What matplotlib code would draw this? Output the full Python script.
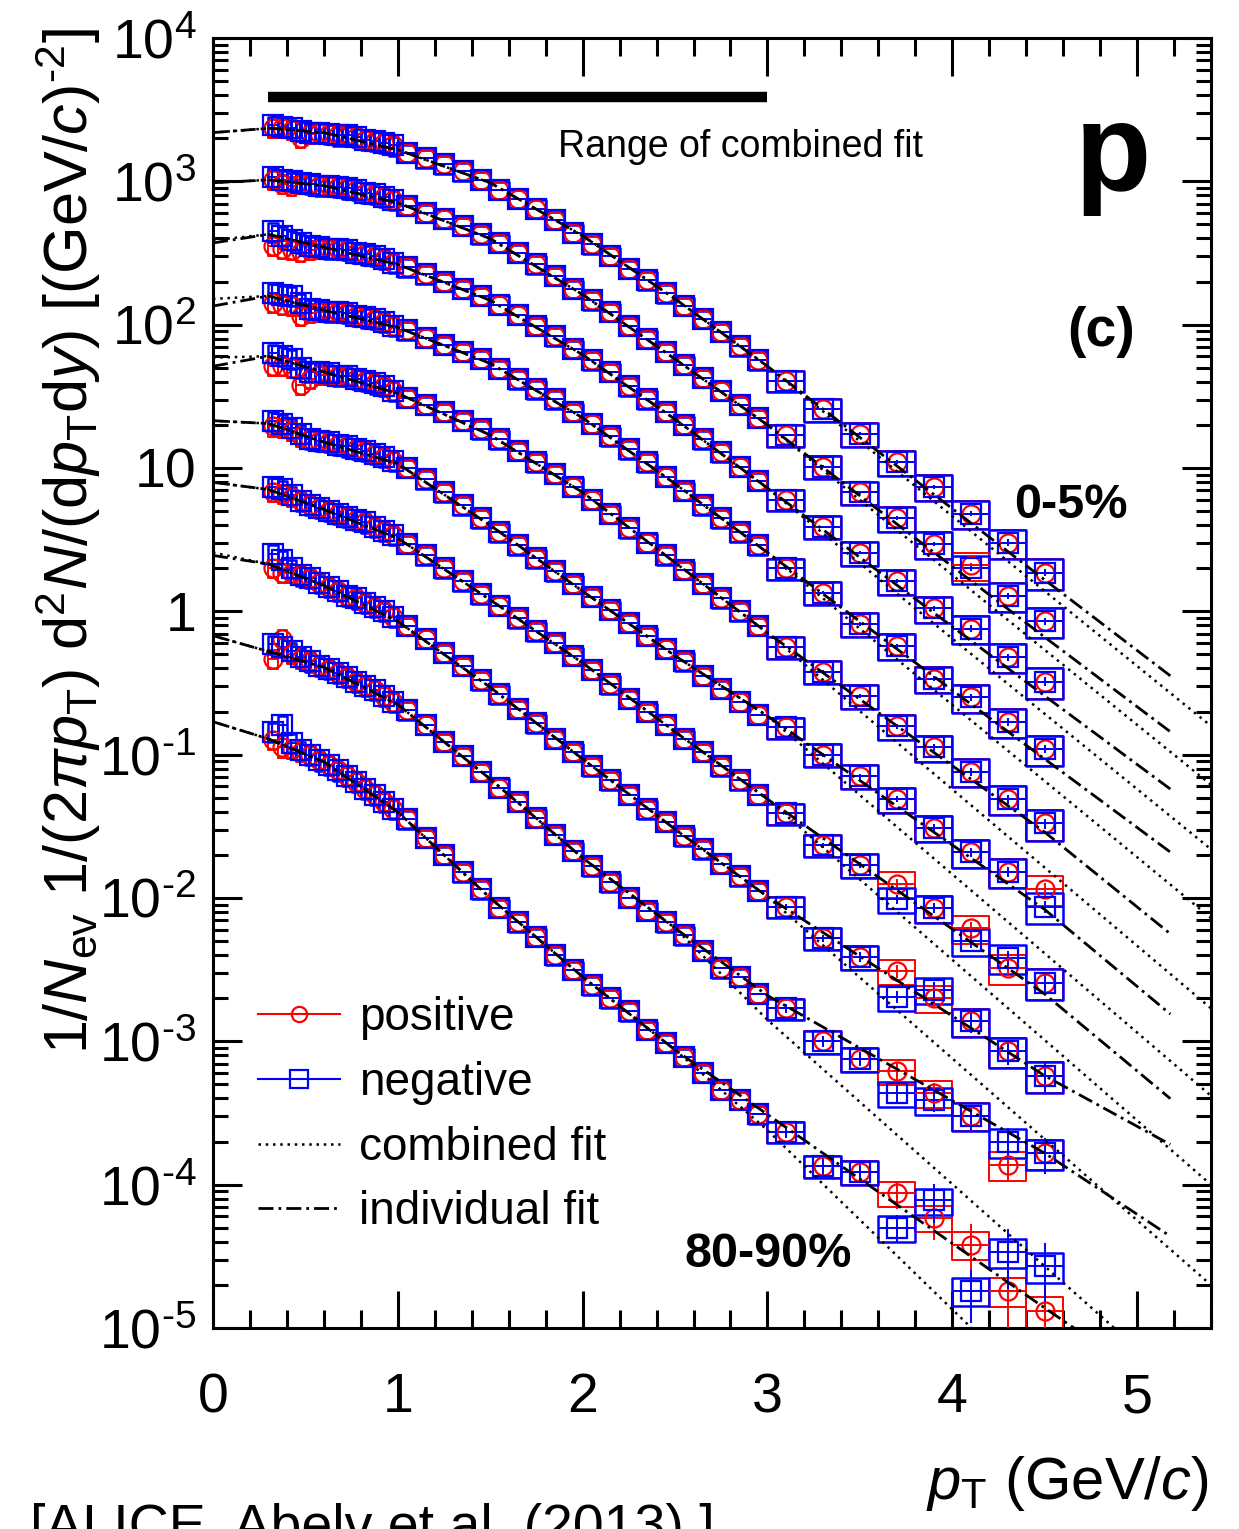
import numpy as np
import matplotlib
matplotlib.use('Agg')
import matplotlib.pyplot as plt
from matplotlib.patches import Rectangle
from matplotlib.collections import PatchCollection
from matplotlib.lines import Line2D
from matplotlib.ticker import MultipleLocator, FixedLocator, FuncFormatter, NullFormatter

plt.rcParams['font.family'] = 'Liberation Sans'
plt.rcParams['mathtext.fontset'] = 'custom'
plt.rcParams['mathtext.rm'] = 'Liberation Sans'
plt.rcParams['mathtext.it'] = 'Liberation Sans:italic'
plt.rcParams['mathtext.bf'] = 'Liberation Sans:bold'
plt.rcParams['mathtext.sf'] = 'Liberation Sans'

# ---------------- data (log10 of the yield) ----------------
centrality = ['0-5%', '5-10%', '10-20%', '20-30%', '30-40%',
              '40-50%', '50-60%', '60-70%', '70-80%', '80-90%']

pt_edges = [0.30, 0.35, 0.40, 0.45, 0.50, 0.55, 0.60, 0.65, 0.70, 0.75, 0.80, 0.85, 0.90, 0.95, 1.00,
            1.10, 1.20, 1.30, 1.40, 1.50, 1.60, 1.70, 1.80, 1.90, 2.00, 2.10, 2.20, 2.30, 2.40, 2.50,
            2.60, 2.70, 2.80, 2.90, 3.00,
            3.20, 3.40, 3.60, 3.80, 4.00, 4.20, 4.40, 4.60]

pos_log10 = [
    [3.37, 3.37, 3.36, 3.30, 3.33, 3.34, 3.33, 3.32, 3.32, 3.31, 3.29, 3.28, 3.27, 3.25,
     3.20, 3.16, 3.12, 3.07, 3.01, 2.94, 2.88, 2.81, 2.73, 2.64, 2.56, 2.48, 2.39, 2.31, 2.22, 2.13, 2.04, 1.95, 1.85, 1.75,
     1.61, 1.41, 1.24, 1.04, 0.87, 0.68, 0.48, 0.27],
    [3.01, 2.98, 2.97, 2.98, 2.98, 2.97, 2.97, 2.96, 2.95, 2.94, 2.92, 2.91, 2.89, 2.87,
     2.83, 2.78, 2.74, 2.69, 2.63, 2.57, 2.50, 2.42, 2.34, 2.25, 2.17, 2.09, 1.99, 1.90, 1.81, 1.72, 1.63, 1.54, 1.44, 1.35,
     1.23, 1.01, 0.83, 0.65, 0.47, 0.32, 0.11, -0.07],
    [2.55, 2.53, 2.52, 2.51, 2.52, 2.53, 2.53, 2.53, 2.52, 2.50, 2.49, 2.48, 2.46, 2.43,
     2.40, 2.35, 2.30, 2.25, 2.20, 2.14, 2.07, 1.99, 1.92, 1.83, 1.75, 1.67, 1.57, 1.48, 1.39, 1.30, 1.20, 1.11, 1.01, 0.91,
     0.78, 0.59, 0.41, 0.21, 0.02, -0.12, -0.32, -0.49],
    [2.15, 2.14, 2.13, 2.06, 2.08, 2.09, 2.09, 2.09, 2.08, 2.06, 2.05, 2.04, 2.02, 1.99,
     1.96, 1.91, 1.86, 1.81, 1.76, 1.69, 1.62, 1.55, 1.48, 1.39, 1.31, 1.22, 1.13, 1.04, 0.94, 0.84, 0.74, 0.65, 0.55, 0.46,
     0.30, 0.13, -0.09, -0.24, -0.47, -0.60, -0.77, -0.96],
    [1.71, 1.71, 1.70, 1.58, 1.62, 1.65, 1.65, 1.64, 1.64, 1.62, 1.61, 1.59, 1.57, 1.54,
     1.49, 1.44, 1.39, 1.33, 1.27, 1.20, 1.12, 1.04, 0.96, 0.87, 0.78, 0.68, 0.58, 0.48, 0.39, 0.29, 0.19, 0.09, 0.00, -0.10,
     -0.25, -0.42, -0.59, -0.80, -0.95, -1.12, -1.31, -1.48],
    [1.29, 1.28, 1.26, 1.22, 1.20, 1.19, 1.18, 1.16, 1.15, 1.13, 1.12, 1.10, 1.08, 1.05,
     1.00, 0.92, 0.83, 0.74, 0.65, 0.55, 0.46, 0.37, 0.28, 0.19, 0.10, 0.01, -0.08, -0.17, -0.26, -0.35, -0.45, -0.54, -0.63, -0.72,
     -0.81, -1.00, -1.15, -1.31, -1.51, -1.68, -1.82, -1.94],
    [0.83, 0.82, 0.80, 0.77, 0.74, 0.72, 0.70, 0.68, 0.66, 0.64, 0.62, 0.59, 0.56, 0.53,
     0.47, 0.39, 0.30, 0.21, 0.12, 0.04, -0.05, -0.14, -0.22, -0.31, -0.41, -0.51, -0.61, -0.70, -0.79, -0.89, -0.98, -1.08, -1.18, -1.28,
     -1.41, -1.63, -1.77, -1.90, -2.07, -2.21, -2.49, -2.59],
    [0.30, 0.27, 0.27, 0.25, 0.23, 0.20, 0.17, 0.14, 0.11, 0.09, 0.06, 0.03, 0.00, -0.04,
     -0.10, -0.19, -0.29, -0.38, -0.48, -0.58, -0.68, -0.78, -0.89, -0.98, -1.08, -1.18, -1.28, -1.38, -1.47, -1.57, -1.66, -1.76, -1.85, -1.95,
     -2.06, -2.28, -2.41, -2.51, -2.70, -2.86, -3.07, -3.24],
    [-0.33, -0.19, -0.30, -0.33, -0.35, -0.38, -0.40, -0.43, -0.46, -0.49, -0.52, -0.55, -0.59, -0.63,
     -0.69, -0.79, -0.91, -1.01, -1.12, -1.23, -1.33, -1.44, -1.56, -1.67, -1.78, -1.89, -2.00, -2.09, -2.17, -2.26, -2.37, -2.49, -2.55, -2.67,
     -2.77, -3.00, -3.12, -3.21, -3.36, -3.52, -3.86, -3.78],
    [-0.90, -0.95, -0.96, -0.98, -1.00, -1.04, -1.07, -1.11, -1.15, -1.19, -1.24, -1.28, -1.33, -1.38,
     -1.45, -1.58, -1.70, -1.82, -1.94, -2.07, -2.17, -2.27, -2.40, -2.50, -2.61, -2.70, -2.79, -2.92, -3.01, -3.11, -3.22, -3.34, -3.41, -3.51,
     -3.63, -3.87, -3.91, -4.06, -4.23, -4.42, -4.74, -4.88],
]

neg_log10 = [
    [3.39, 3.38, 3.37, 3.35, 3.34, 3.34, 3.33, 3.32, 3.32, 3.31, 3.29, 3.28, 3.27, 3.25,
     3.20, 3.16, 3.12, 3.07, 3.01, 2.94, 2.88, 2.81, 2.73, 2.64, 2.56, 2.48, 2.39, 2.31, 2.22, 2.13, 2.04, 1.95, 1.85, 1.75,
     1.61, 1.41, 1.24, 1.04, 0.87, 0.68, 0.48, 0.27],
    [3.03, 3.01, 3.00, 2.99, 2.98, 2.97, 2.97, 2.96, 2.95, 2.94, 2.92, 2.91, 2.89, 2.87,
     2.83, 2.78, 2.74, 2.69, 2.63, 2.57, 2.50, 2.42, 2.34, 2.25, 2.17, 2.09, 1.99, 1.90, 1.81, 1.72, 1.63, 1.54, 1.44, 1.35,
     1.23, 1.01, 0.83, 0.65, 0.47, 0.30, 0.11, -0.07],
    [2.65, 2.62, 2.59, 2.57, 2.55, 2.54, 2.53, 2.53, 2.52, 2.50, 2.49, 2.48, 2.46, 2.43,
     2.40, 2.35, 2.30, 2.25, 2.20, 2.14, 2.07, 1.99, 1.92, 1.83, 1.75, 1.67, 1.57, 1.48, 1.39, 1.30, 1.20, 1.11, 1.01, 0.91,
     0.78, 0.59, 0.41, 0.21, 0.02, -0.12, -0.32, -0.49],
    [2.22, 2.21, 2.20, 2.15, 2.11, 2.10, 2.09, 2.09, 2.08, 2.06, 2.05, 2.04, 2.02, 1.99,
     1.96, 1.91, 1.86, 1.81, 1.76, 1.69, 1.62, 1.55, 1.48, 1.39, 1.31, 1.22, 1.13, 1.04, 0.94, 0.84, 0.74, 0.65, 0.55, 0.46,
     0.30, 0.13, -0.09, -0.24, -0.47, -0.60, -0.77, -0.96],
    [1.80, 1.78, 1.76, 1.70, 1.67, 1.67, 1.66, 1.64, 1.64, 1.62, 1.61, 1.59, 1.57, 1.54,
     1.49, 1.44, 1.39, 1.33, 1.27, 1.20, 1.12, 1.04, 0.96, 0.87, 0.78, 0.68, 0.58, 0.48, 0.39, 0.29, 0.19, 0.09, 0.00, -0.10,
     -0.25, -0.42, -0.59, -0.80, -0.95, -1.12, -1.31, -1.48],
    [1.33, 1.31, 1.28, 1.24, 1.20, 1.19, 1.18, 1.16, 1.15, 1.13, 1.12, 1.10, 1.08, 1.05,
     1.00, 0.92, 0.83, 0.74, 0.65, 0.55, 0.46, 0.37, 0.28, 0.19, 0.10, 0.01, -0.08, -0.17, -0.26, -0.35, -0.45, -0.54, -0.63, -0.72,
     -0.81, -1.00, -1.15, -1.31, -1.51, -1.68, -1.82, -2.06],
    [0.87, 0.85, 0.81, 0.77, 0.74, 0.72, 0.70, 0.68, 0.66, 0.64, 0.62, 0.59, 0.56, 0.53,
     0.47, 0.39, 0.30, 0.21, 0.12, 0.04, -0.05, -0.14, -0.22, -0.31, -0.41, -0.51, -0.61, -0.70, -0.79, -0.89, -0.98, -1.08, -1.18, -1.28,
     -1.41, -1.63, -1.77, -2.01, -2.07, -2.30, -2.42, -2.59],
    [0.40, 0.36, 0.30, 0.25, 0.23, 0.20, 0.17, 0.14, 0.11, 0.09, 0.06, 0.03, 0.00, -0.04,
     -0.10, -0.19, -0.29, -0.38, -0.48, -0.58, -0.68, -0.78, -0.89, -0.98, -1.08, -1.18, -1.28, -1.38, -1.47, -1.57, -1.66, -1.76, -1.85, -1.95,
     -2.06, -2.28, -2.41, -2.69, -2.64, -2.86, -3.07, -3.24],
    [-0.23, -0.25, -0.28, -0.32, -0.35, -0.38, -0.40, -0.43, -0.46, -0.49, -0.52, -0.55, -0.59, -0.63,
     -0.69, -0.79, -0.91, -1.01, -1.12, -1.23, -1.33, -1.44, -1.56, -1.67, -1.78, -1.89, -2.00, -2.09, -2.17, -2.26, -2.37, -2.49, -2.55, -2.67,
     -2.77, -3.00, -3.12, -3.36, -3.41, -3.52, -3.70, -3.78],
    [-0.84, -0.79, -0.92, -0.97, -1.00, -1.04, -1.07, -1.11, -1.15, -1.19, -1.24, -1.28, -1.33, -1.38,
     -1.45, -1.58, -1.70, -1.82, -1.94, -2.07, -2.17, -2.27, -2.40, -2.50, -2.61, -2.70, -2.79, -2.92, -3.01, -3.11, -3.22, -3.34, -3.41, -3.51,
     -3.63, -3.87, -3.91, -4.30, -4.11, -4.74, -4.47, -4.57],
]

# relative statistical errors for the 8 bins above 3 GeV/c (smaller bins: hidden by markers)
stat_rel_high = [
    [0.01, 0.02, 0.02, 0.03, 0.03, 0.04, 0.05, 0.06],
    [0.01, 0.02, 0.02, 0.03, 0.03, 0.04, 0.05, 0.06],
    [0.01, 0.02, 0.02, 0.03, 0.04, 0.05, 0.06, 0.07],
    [0.02, 0.02, 0.03, 0.03, 0.04, 0.05, 0.06, 0.07],
    [0.02, 0.03, 0.03, 0.04, 0.05, 0.06, 0.07, 0.08],
    [0.02, 0.03, 0.04, 0.05, 0.06, 0.07, 0.08, 0.10],
    [0.03, 0.04, 0.05, 0.07, 0.08, 0.10, 0.12, 0.14],
    [0.05, 0.06, 0.08, 0.10, 0.13, 0.17, 0.20, 0.25],
    [0.07, 0.09, 0.11, 0.14, 0.17, 0.20, 0.24, 0.28],
    [0.10, 0.13, 0.17, 0.22, 0.30, 0.40, 0.45, 0.45],
]

syst_rel = [0.15] * 14 + [0.14] * 20 + [0.17, 0.18, 0.19, 0.20, 0.21, 0.22, 0.23, 0.24]

# blast-wave fits (log10 of the yield at these pT)
comb_pt = [0.0, 0.3, 0.6, 1.0, 1.5, 2.0, 2.5, 3.0, 5.4]
comb_log10 = [
    [3.34, 3.37, 3.34, 3.22, 2.99, 2.62, 2.18, 1.71, -0.80],
    [2.99, 3.01, 2.97, 2.85, 2.60, 2.21, 1.76, 1.30, -1.21],
    [2.59, 2.63, 2.54, 2.42, 2.17, 1.79, 1.34, 0.86, -1.66],
    [2.18, 2.20, 2.10, 1.98, 1.73, 1.35, 0.89, 0.41, -2.14],
    [1.77, 1.78, 1.67, 1.52, 1.23, 0.83, 0.34, -0.15, -2.77],
    [1.33, 1.31, 1.18, 1.03, 0.60, 0.14, -0.31, -0.73, -3.38],
    [0.90, 0.85, 0.71, 0.51, 0.08, -0.36, -0.84, -1.31, -4.00],
    [0.41, 0.33, 0.18, -0.07, -0.53, -1.03, -1.52, -1.99, -4.70],
    [-0.17, -0.28, -0.39, -0.65, -1.17, -1.72, -2.21, -2.85, -5.60],
    [-0.77, -0.89, -1.05, -1.40, -2.00, -2.55, -3.06, -3.62, -6.62],
]

indiv_pt = [0.0, 0.3, 0.6, 1.0, 1.5, 2.0, 2.5, 3.0, 4.5, 5.18]
indiv_log10 = [
    [3.34, 3.37, 3.34, 3.22, 2.99, 2.62, 2.18, 1.71, 0.22, -0.45],
    [2.99, 3.01, 2.97, 2.85, 2.60, 2.21, 1.76, 1.30, -0.18, -0.84],
    [2.57, 2.63, 2.54, 2.42, 2.17, 1.79, 1.34, 0.86, -0.59, -1.24],
    [2.13, 2.20, 2.10, 1.98, 1.73, 1.35, 0.89, 0.41, -1.03, -1.68],
    [1.71, 1.78, 1.67, 1.52, 1.23, 0.83, 0.34, -0.15, -1.54, -2.25],
    [1.33, 1.31, 1.18, 1.03, 0.60, 0.14, -0.31, -0.73, -2.08, -2.81],
    [0.90, 0.85, 0.71, 0.51, 0.08, -0.36, -0.84, -1.31, -2.67, -3.40],
    [0.39, 0.33, 0.18, -0.07, -0.53, -1.03, -1.52, -1.99, -3.24, -3.72],
    [-0.17, -0.28, -0.39, -0.65, -1.17, -1.72, -2.21, -2.68, -3.78, -4.36],
    [-0.77, -0.89, -1.05, -1.40, -2.00, -2.55, -3.06, -3.51, -4.86, -5.46],
]

range_fit = (0.3, 3.0)
range_bar_y = 3.9e3

# ---------------- figure ----------------
W, H = 1239, 1529


def fx(x):
    return x / W


def fy(y):
    return 1 - y / H


fig = plt.figure(figsize=(W / 100, H / 100), dpi=100)
ax = fig.add_axes([fx(213), fy(1328), (1211 - 213) / W, (1328 - 38) / H])
ax.set_yscale('log')
ax.set_xlim(0, 5.4)
ax.set_ylim(1e-5, 1e4)

edges = np.array(pt_edges)
pt = 0.5 * (edges[:-1] + edges[1:])
hw = 0.5 * np.diff(edges)
syst = np.array(syst_rel)

dotted = (0, (1, 1.9))
dashdot = (0, (5.4, 1.8, 1.0, 1.8))

for i in range(len(centrality)):
    stat = np.concatenate([np.zeros(len(pt) - 8), stat_rel_high[i]])
    for vals, col, mk, ms, lw in [(pos_log10[i], 'red', 'o', 13, 1.4),
                                  (neg_log10[i], 'blue', 's', 14, 1.8)]:
        v = 10 ** np.array(vals)
        rects = [Rectangle((edges[j], v[j] * (1 - syst[j])), 2 * hw[j], 2 * v[j] * syst[j])
                 for j in range(len(pt))]
        ax.add_collection(PatchCollection(rects, facecolor='none', edgecolor=col,
                                          linewidth=lw, zorder=2))
        ax.errorbar(pt, v, xerr=hw, yerr=v * stat, fmt=mk, mfc='none', mec=col,
                    ms=ms, mew=1.6, ecolor=col, elinewidth=1.4, capsize=0, zorder=3)
    ax.plot(comb_pt, 10 ** np.array(comb_log10[i]), color='black', lw=1.8,
            linestyle=dotted, zorder=5)
    ax.plot(indiv_pt, 10 ** np.array(indiv_log10[i]), color='black', lw=2.0,
            linestyle=dashdot, zorder=5)

# range of the combined fit
ax.hlines(range_bar_y, range_fit[0], range_fit[1], color='black', lw=7.5, zorder=6)

# ---------------- axes styling ----------------
for s in ax.spines.values():
    s.set_linewidth(2.2)
ax.xaxis.set_major_locator(MultipleLocator(1))
ax.xaxis.set_minor_locator(MultipleLocator(0.2))
ax.yaxis.set_major_locator(FixedLocator(10.0 ** np.arange(-5, 5)))
minor = [m * 10.0 ** d for d in range(-5, 4) for m in range(2, 10)]
ax.yaxis.set_minor_locator(FixedLocator(minor))
ax.yaxis.set_minor_formatter(NullFormatter())


def ylab(v, pos):
    e = int(round(np.log10(v)))
    if e == 0:
        return '1'
    if e == 1:
        return '10'
    if e < 0:
        return r'$10^{\text{-}%d}$' % (-e)
    return r'$10^{%d}$' % e


ax.yaxis.set_major_formatter(FuncFormatter(ylab))
ax.tick_params(which='both', direction='in', top=True, right=True, width=2.2)
ax.tick_params(axis='x', which='major', length=27, labelsize=40, pad=32)
ax.tick_params(axis='x', which='minor', length=13)
ax.tick_params(axis='y', which='major', length=21, labelsize=40, pad=12)
ax.tick_params(axis='y', which='minor', length=11)

# ---------------- labels / text ----------------
fig.text(fx(1208), fy(1499), r'$p_{\rm T}$ (GeV/$c$)', fontsize=43, ha='right', va='baseline')
fig.text(fx(68), fy(28),
         r'$1/N_{\rm ev}\ 1/(2\pi p_{\rm T})\ {\rm d}^{2}N/({\rm d}p_{\rm T}{\rm d}y)\ [({\rm GeV}/c)^{\text{-}2}]$',
         fontsize=44, rotation=90, ha='center', va='top')
fig.text(fx(30), fy(1503), '[ALICE, Abelv et al. (2013) ]', fontsize=40, ha='left', va='top')

fig.text(fx(1113), fy(190), 'p', fontsize=90, fontweight='bold', ha='center', va='baseline')
fig.text(fx(1101), fy(346), '(c)', fontsize=40, fontweight='bold', ha='center', va='baseline')
fig.text(fx(1071), fy(518), centrality[0], fontsize=35, fontweight='bold', ha='center', va='baseline')
fig.text(fx(768), fy(1267), centrality[-1], fontsize=35, fontweight='bold', ha='center', va='baseline')
fig.text(fx(741), fy(157), 'Range of combined fit', fontsize=27, ha='center', va='baseline')

handles = [Line2D([], [], color='red', marker='o', mfc='none', ms=11, mew=1.6, lw=1.5),
           Line2D([], [], color='blue', marker='s', mfc='none', ms=13, mew=1.6, lw=1.5),
           Line2D([], [], color='black', lw=1.8, linestyle=dotted),
           Line2D([], [], color='black', lw=2.0, linestyle=dashdot)]
labels = ['positive', 'negative', 'combined fit', 'individual fit']
ax.legend(handles, labels, loc='upper left', bbox_to_anchor=(0.045, 0.257), frameon=False,
          fontsize=33, handlelength=1.8, handletextpad=0.4, labelspacing=0.45,
          borderpad=0, borderaxespad=0, numpoints=1)

fig.savefig('out.png', dpi=100)
